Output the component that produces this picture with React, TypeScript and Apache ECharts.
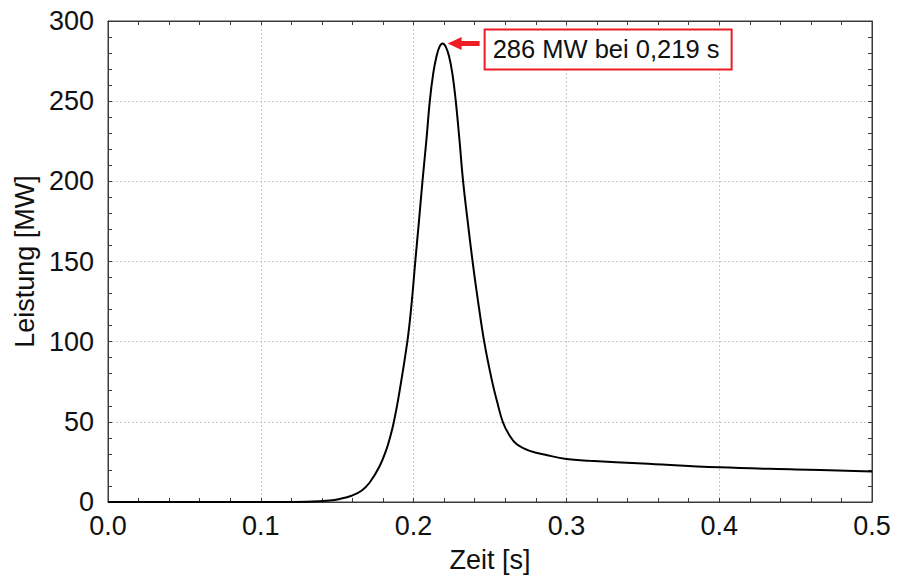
import React, { useEffect, useRef } from "react";
import * as echarts from "echarts";

// Leistungsverlauf über der Zeit
const timeS: number[] = [
  0.0, 0.05, 0.1, 0.12, 0.13, 0.1452, 0.1517, 0.1594, 0.1659, 0.1714, 0.1779,
  0.1823, 0.1848, 0.187, 0.1899, 0.1959, 0.1988, 0.2011, 0.2035, 0.2058,
  0.2084, 0.2106, 0.2128, 0.215, 0.217, 0.219, 0.221, 0.2232, 0.2254, 0.2276,
  0.23, 0.2324, 0.2354, 0.2386, 0.2422, 0.2462, 0.2512, 0.2548, 0.2585,
  0.2629, 0.2675, 0.276, 0.2869, 0.3, 0.315, 0.35, 0.4, 0.45, 0.5,
];
const powerMW: number[] = [
  0, 0, 0, 0.05, 0.15, 0.9, 1.9, 3.9, 7.0, 12.3, 22.6, 33, 41, 49.6, 64, 100,
  125, 150, 175, 200, 226, 250, 267, 278, 284, 286, 284, 278, 267, 250, 226,
  200, 175, 150, 125, 100, 76, 62, 49.6, 41.3, 36, 31.9, 29.3, 26.8, 25.7, 24,
  21.6, 20.3, 19.1,
];

const peakTime = 0.219;
const peakPower = 286;
const peakLabel = "286 MW bei 0,219 s";

const xTicks = { min: 0, max: 0.5, interval: 0.1 };
const yTicks = { min: 0, max: 300, interval: 50 };

const FONT = "'Liberation Sans', Arial, sans-serif";
const TEXT = "#111111";
const FRAME = "#3a3a3a";
const RED = "#ee1c25";

export default function App() {
  const ref = useRef<HTMLDivElement>(null);

  useEffect(() => {
    if (!ref.current) return;
    const chart = echarts.init(ref.current, null, { renderer: "svg" });

    const tickStyle = {
      axisLine: { show: true, onZero: false, lineStyle: { color: FRAME, width: 1 } },
      axisTick: { show: true, inside: true, length: 4, lineStyle: { color: FRAME } },
      minorTick: { show: true, splitNumber: 5, length: 4, lineStyle: { color: FRAME } },
    };
    const gridLine = { show: true, lineStyle: { color: "#c8c8c8", type: [2, 2], width: 1 } };

    chart.setOption({
      animation: false,
      backgroundColor: "#ffffff",
      grid: {
        left: 108,
        top: 21,
        width: 764,
        height: 482,
        containLabel: false,
        show: true,
        borderColor: FRAME,
        borderWidth: 1,
        backgroundColor: "transparent",
      },
      xAxis: [
        {
          type: "value",
          ...xTicks,
          position: "bottom",
          ...tickStyle,
          axisLabel: {
            color: TEXT,
            fontFamily: FONT,
            fontSize: 27,
            margin: 10,
            formatter: (v: number) => v.toFixed(1),
          },
          splitLine: gridLine,
          name: "Zeit [s]",
          nameLocation: "middle",
          nameGap: 44,
          nameTextStyle: { color: TEXT, fontFamily: FONT, fontSize: 27 },
        },
        {
          type: "value",
          ...xTicks,
          position: "top",
          ...tickStyle,
          axisLabel: { show: false },
          splitLine: { show: false },
        },
      ],
      yAxis: [
        {
          type: "value",
          ...yTicks,
          position: "left",
          ...tickStyle,
          axisLabel: { color: TEXT, fontFamily: FONT, fontSize: 27, margin: 14 },
          splitLine: gridLine,
          name: "Leistung [MW]",
          nameLocation: "middle",
          nameGap: 63,
          nameTextStyle: { color: TEXT, fontFamily: FONT, fontSize: 27 },
        },
        {
          type: "value",
          ...yTicks,
          position: "right",
          ...tickStyle,
          axisLabel: { show: false },
          splitLine: { show: false },
        },
      ],
      series: [
        {
          type: "line",
          xAxisIndex: 0,
          yAxisIndex: 0,
          data: timeS.map((t, i) => [t, powerMW[i]]),
          showSymbol: false,
          symbol: "none",
          smooth: 0.4,
          lineStyle: { color: "#000000", width: 2 },
          clip: true,
          z: 5,
        },
      ],
    });

    // Pfeil und Beschriftung am Maximum
    const [px, py] = chart.convertToPixel({ xAxisIndex: 0, yAxisIndex: 0 }, [
      peakTime,
      peakPower,
    ]) as number[];
    const tipX = px + 5;
    const tipY = py;
    const boxX = tipX + 37;
    const boxY = tipY - 14;
    chart.setOption({
      graphic: [
        {
          type: "polygon",
          shape: {
            points: [
              [tipX, tipY],
              [tipX + 14, tipY - 6.5],
              [tipX + 14, tipY - 2.5],
              [tipX + 32, tipY - 2.5],
              [tipX + 32, tipY + 2.5],
              [tipX + 14, tipY + 2.5],
              [tipX + 14, tipY + 6.5],
            ],
          },
          style: { fill: RED },
          z: 10,
        },
        {
          type: "rect",
          shape: { x: boxX, y: boxY, width: 247, height: 40 },
          style: { fill: "#ffffff", stroke: RED, lineWidth: 2 },
          z: 10,
        },
        {
          type: "text",
          x: boxX + 8,
          y: boxY + 20,
          style: {
            text: peakLabel,
            fill: TEXT,
            font: `25.5px ${FONT}`,
            textVerticalAlign: "middle",
            verticalAlign: "middle",
          },
          z: 11,
        },
      ],
    });

    return () => chart.dispose();
  }, []);

  return (
    <div
      ref={ref}
      style={{ position: "fixed", left: 0, top: 0, width: 897, height: 578, background: "#fff" }}
    />
  );
}
